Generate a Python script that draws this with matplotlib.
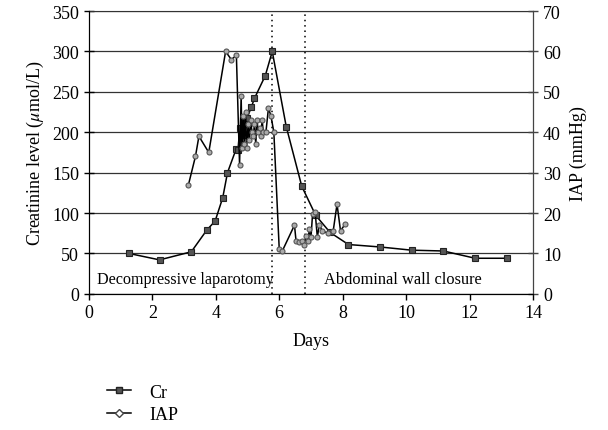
import numpy as np
import matplotlib.pyplot as plt
from matplotlib.lines import Line2D

plt.rcParams['font.family'] = ['Liberation Serif', 'DejaVu Serif']
plt.rcParams['mathtext.fontset'] = 'stix'

# creatinine (left axis)
cr_days = [1.26, 2.23, 3.23, 3.72, 3.98, 4.22, 4.37, 4.64, 4.70, 4.76, 4.80, 4.86, 4.92,
           4.99, 5.12, 5.22, 5.56, 5.78, 6.22, 6.71, 7.15, 7.6, 8.18, 9.17, 10.17, 11.17,
           12.17, 13.17]
cr_vals = [50, 42, 52, 79, 90, 119, 150, 179, 178, 205, 185, 215, 196,
           218, 231, 242, 270, 300, 207, 133, 97, 76, 61, 58, 54, 53,
           44, 44]

# intra-abdominal pressure (right axis)
iap_days = [3.14, 3.36, 3.47, 3.78, 4.31, 4.49, 4.65, 4.75, 4.80, 4.83, 4.87, 4.90, 4.94,
            4.97, 5.02, 5.06, 5.10, 5.14, 5.18, 5.22, 5.26, 5.30, 5.34, 5.38, 5.42, 5.46,
            5.50, 5.58, 5.66, 5.74, 5.83, 6.00, 6.09, 6.48, 6.53, 6.63, 6.73, 6.78, 6.85,
            6.90, 6.95, 7.00, 7.05, 7.13, 7.20, 7.26, 7.36, 7.53, 7.70, 7.82, 7.93, 8.08]
iap_vals = [27, 34, 39, 35, 60, 58, 59, 32, 49, 36, 44, 37, 45,
            36, 42, 38, 43, 40, 39, 42, 37, 43, 40, 41, 39, 43,
            40, 40, 46, 44, 40, 11, 10.5, 17, 13, 12.8, 13, 12, 14.4,
            13, 16, 14, 19.8, 20.3, 14, 17, 15.6, 15, 15.6, 22.2, 15.6, 17.3]

events = [5.78, 6.8]

fig = plt.figure(figsize=(6.08, 4.31), dpi=100)
ax = fig.add_axes([0.146, 0.316, 0.731, 0.656])
ax2 = ax.twinx()

ax.plot(cr_days, cr_vals, color='black', lw=1.1, marker='s', ms=4.2,
        mfc='#555555', mec='#222222', mew=0.8, zorder=3)
ax2.plot(iap_days, iap_vals, color='black', lw=1.1, marker='o', ms=3.6,
         mfc='#aaaaaa', mec='#555555', mew=0.8, zorder=3)

for d in events:
    ax.axvline(d, color='black', ls=(0, (1, 2.5)), lw=1.1, zorder=2)

ax.set_xlim(0, 14)
ax.set_ylim(0, 350)
ax2.set_ylim(0, 70)
ax.set_xticks(range(0, 15, 2))
ax.set_yticks(range(0, 351, 50))
ax2.set_yticks(range(0, 71, 10))
ax.yaxis.grid(True, color='#333333', lw=0.9)
ax.set_axisbelow(True)

ax2.spines['top'].set_visible(False)
ax.spines['top'].set_color('#333333')
ax2.spines['right'].set_color('#444444')
for a in (ax, ax2):
    a.tick_params(labelsize=13, length=5, width=1)
ax.tick_params(axis='y', direction='inout', length=7)
ax2.tick_params(axis='y', direction='inout', length=7, color='#444444')
ax.tick_params(axis='x', direction='out', length=4)

ax.set_xlabel('Days', fontsize=13, labelpad=8)
ax.set_ylabel(r'Creatinine level ($\mu$mol/L)', fontsize=13)
ax2.set_ylabel('IAP (mmHg)', fontsize=13, labelpad=6)

ax.text(0.25, 18, 'Decompressive laparotomy', fontsize=11.6, va='center')
ax.text(7.4, 18, 'Abdominal wall closure', fontsize=11.8, va='center')

handles = [Line2D([], [], color='black', lw=1.1, marker='s', ms=4.5,
                  mfc='#555555', mec='#222222'),
           Line2D([], [], color='black', lw=1.1, marker='D', ms=4,
                  mfc='white', mec='#444444')]
fig.legend(handles, ['Cr', 'IAP'], loc='upper left', bbox_to_anchor=(0.15, 0.145),
           frameon=False, fontsize=13, handlelength=1.3, handletextpad=1.0,
           labelspacing=0.3)

fig.savefig('out.png', dpi=100)
